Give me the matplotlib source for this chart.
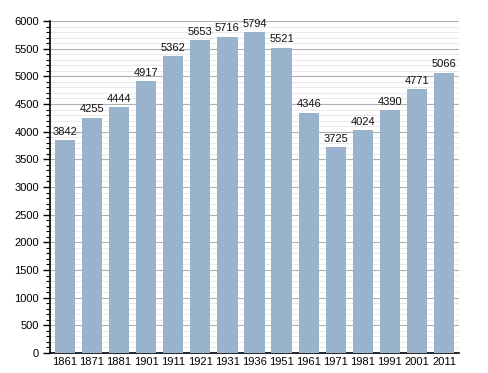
import matplotlib
matplotlib.use("Agg")
import matplotlib.pyplot as plt
from matplotlib.ticker import MultipleLocator

plt.rcParams["font.family"] = ["Liberation Sans", "DejaVu Sans"]

years = ["1861", "1871", "1881", "1901", "1911", "1921", "1931", "1936",
         "1951", "1961", "1971", "1981", "1991", "2001", "2011"]
population = [3842, 4255, 4444, 4917, 5362, 5653, 5716, 5794,
              5521, 4346, 3725, 4024, 4390, 4771, 5066]

fig = plt.figure(figsize=(4.88, 3.73), dpi=100)
ax = fig.add_axes([0.1025, 0.0536, 0.838, 0.89])

x = list(range(len(years)))
ax.bar(x, population, width=0.75, color="#9ab3cd", zorder=3)
for xi, v in zip(x, population):
    ax.text(xi, v + 60, str(v), ha="center", va="bottom", fontsize=8, color="#111111", zorder=4)

ax.set_xlim(-0.55, len(years) - 0.45)
ax.set_ylim(0, 6000)
ax.set_xticks(x)
ax.set_xticklabels(years, fontsize=8)
ax.tick_params(axis="x", length=0, pad=3)
ax.yaxis.set_major_locator(MultipleLocator(500))
ax.yaxis.set_minor_locator(MultipleLocator(100))
ax.tick_params(axis="y", which="major", length=5, width=1, labelsize=8, pad=3)
ax.tick_params(axis="y", which="minor", length=3, width=0.8)
ax.grid(axis="y", which="major", color="#b0b0b0", linewidth=0.8, zorder=0)
ax.grid(axis="y", which="minor", color="#e6e6e6", linewidth=0.6, zorder=0)
for s in ["top", "right"]:
    ax.spines[s].set_visible(False)
ax.spines["left"].set_linewidth(1.2)
ax.spines["bottom"].set_linewidth(1.2)

fig.savefig("out.png", dpi=100)
